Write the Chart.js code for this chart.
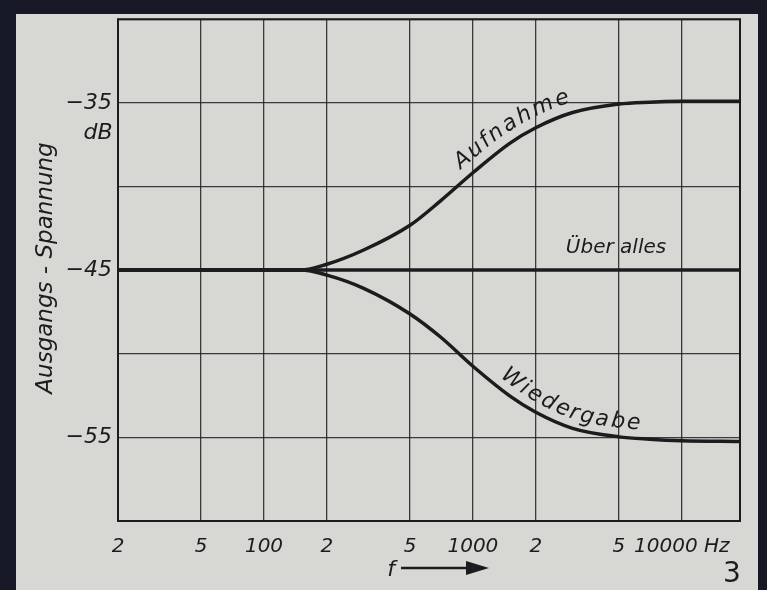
<!DOCTYPE html>
<html>
<head>
<meta charset="utf-8">
<script src="https://cdn.jsdelivr.net/npm/chart.js@4/dist/chart.umd.min.js"></script>
<style>
  html, body { margin: 0; padding: 0; background: #161925; }
  #wrap { width: 767px; height: 590px; }
</style>
</head>
<body>
<div id="wrap"><canvas id="chart" width="767" height="590"></canvas></div>
<script>
// ===== DATA =====
const freqs = [20, 100, 150, 200, 300, 500, 700, 1000, 1500, 2000, 3000, 5000, 7000, 10000, 19000];
const aufnahme = [-45, -45, -45, -44.65, -43.8, -42.32, -40.86, -39.18, -37.42, -36.49, -35.58, -35.07, -34.96, -34.91, -34.9];
const wiedergabe = [-45, -45, -45, -45.3, -46.09, -47.62, -49.0, -50.75, -52.52, -53.5, -54.46, -54.97, -55.11, -55.2, -55.25];
const ueberAlles = [-45, -45, -45, -45, -45, -45, -45, -45, -45, -45, -45, -45, -45, -45, -45];

const xTicks = [20, 50, 100, 200, 500, 1000, 2000, 5000, 10000];
const xTickLabels = ['2', '5', '100', '2', '5', '1000', '2', '5', '10000 Hz'];
const yLabelled = [-35, -45, -55];

const INK = '#1c1c1e';
const FONT = '"DejaVu Sans", sans-serif';

// sample the drawn curve of a dataset (bezier segments between its points)
function curvePath(chart, idx) {
  const pts = chart.getDatasetMeta(idx).data;
  const out = [];
  for (let i = 0; i < pts.length - 1; i++) {
    const a = pts[i], b = pts[i + 1];
    const p1x = a.cp2x ?? a.x, p1y = a.cp2y ?? a.y;
    const p2x = b.cp1x ?? b.x, p2y = b.cp1y ?? b.y;
    for (let s = 0; s < 12; s++) {
      const t = s / 12, u = 1 - t;
      out.push({
        x: u*u*u*a.x + 3*u*u*t*p1x + 3*u*t*t*p2x + t*t*t*b.x,
        y: u*u*u*a.y + 3*u*u*t*p1y + 3*u*t*t*p2y + t*t*t*b.y
      });
    }
  }
  const last = pts[pts.length - 1];
  out.push({ x: last.x, y: last.y });
  return out;
}

// write text along a sampled path, offset to the upper side
function textAlong(c, path, text, startX, offset, spacing) {
  const segs = [];
  let total = 0;
  for (let i = 0; i < path.length - 1; i++) {
    const dx = path[i + 1].x - path[i].x, dy = path[i + 1].y - path[i].y;
    const len = Math.hypot(dx, dy);
    if (len > 0) segs.push({ p: path[i], dx, dy, len, at: total });
    total += len;
  }
  const pointAt = d => {
    for (const s of segs) {
      if (d <= s.at + s.len || s === segs[segs.length - 1]) {
        const t = (d - s.at) / s.len;
        return { x: s.p.x + s.dx * t, y: s.p.y + s.dy * t, tx: s.dx / s.len, ty: s.dy / s.len };
      }
    }
  };
  let d = 0;
  for (const s of segs) { if (s.p.x >= startX) { d = s.at; break; } }
  for (const ch of text) {
    const w = c.measureText(ch).width;
    const q = pointAt(d + w / 2);
    c.save();
    c.translate(q.x + q.ty * offset, q.y - q.tx * offset);
    c.rotate(Math.atan2(q.ty, q.tx));
    c.fillText(ch, 0, 0);
    c.restore();
    d += w + spacing;
  }
}

// ===== PAPER + FRAME + ANNOTATIONS =====
const paperPlugin = {
  id: 'paper',
  beforeDraw(chart) {
    const c = chart.ctx;
    c.save();
    c.fillStyle = '#161925';
    c.fillRect(0, 0, chart.width, chart.height);
    c.fillStyle = '#d7d7d4';
    c.fillRect(16, 14, 742, 576);
    c.restore();
  },
  afterDraw(chart) {
    const c = chart.ctx;
    const a = chart.chartArea;
    c.save();
    // plot frame
    c.strokeStyle = INK;
    c.lineWidth = 2;
    c.strokeRect(a.left, a.top, a.right - a.left, a.bottom - a.top);

    c.fillStyle = INK;
    c.textAlign = 'center';
    c.textBaseline = 'middle';

    // unit under -35
    c.font = 'italic 22px ' + FONT;
    c.fillText('dB', 98, 133);

    // y title
    c.save();
    c.font = 'italic 23px ' + FONT;
    c.translate(46, 268);
    c.rotate(-Math.PI / 2);
    c.fillText('Ausgangs - Spannung', 0, 0);
    c.restore();

    // curve names
    c.font = 'italic 22px ' + FONT;
    textAlong(c, curvePath(chart, 0), 'Aufnahme', 466, 16, 1.8);
    textAlong(c, curvePath(chart, 2), 'Wiedergabe', 494, 15, 2.8);
    c.font = 'italic 20px ' + FONT;
    c.fillText('Über alles', 616, 248);

    // f --->
    c.font = 'italic 22px ' + FONT;
    c.fillText('f', 391, 570);
    c.lineWidth = 2.5;
    c.beginPath();
    c.moveTo(401, 568);
    c.lineTo(470, 568);
    c.stroke();
    c.beginPath();
    c.moveTo(489, 568);
    c.lineTo(466, 561);
    c.lineTo(466, 575);
    c.closePath();
    c.fill();

    // figure number
    c.font = '28px ' + FONT;
    c.fillText('3', 732, 575);
    c.restore();
  }
};

const ctx = document.getElementById('chart').getContext('2d');
new Chart(ctx, {
  type: 'line',
  data: {
    labels: freqs,
    datasets: [
      { label: 'Aufnahme', data: freqs.map((f, i) => ({ x: f, y: aufnahme[i] })) },
      { label: 'Über alles', data: freqs.map((f, i) => ({ x: f, y: ueberAlles[i] })) },
      { label: 'Wiedergabe', data: freqs.map((f, i) => ({ x: f, y: wiedergabe[i] })) }
    ].map(ds => Object.assign(ds, {
      borderColor: INK,
      borderWidth: 3.5,
      pointRadius: 0,
      fill: false,
      cubicInterpolationMode: 'monotone'
    }))
  },
  options: {
    responsive: false,
    animation: false,
    layout: { padding: { left: 0, top: 17, right: 27, bottom: 0 } },
    plugins: {
      legend: { display: false },
      tooltip: { enabled: false }
    },
    scales: {
      x: {
        type: 'logarithmic',
        min: 20,
        max: 19000,
        afterBuildTicks: s => { s.ticks = xTicks.map(v => ({ value: v })); },
        afterFit: s => { s.height = 69; },
        grid: { color: 'rgba(30,30,32,0.85)', lineWidth: 1.3, drawTicks: false },
        border: { display: false },
        ticks: {
          color: INK,
          padding: 14,
          maxRotation: 0,
          autoSkip: false,
          font: { family: FONT, size: 20, style: 'italic' },
          callback: (v, i) => xTickLabels[i]
        }
      },
      y: {
        min: -60,
        max: -30,
        afterFit: s => { s.width = 118; },
        grid: { color: 'rgba(30,30,32,0.85)', lineWidth: 1.3, drawTicks: false },
        border: { display: false },
        ticks: {
          stepSize: 5,
          color: INK,
          padding: 6,
          font: { family: FONT, size: 22, style: 'italic' },
          callback: v => yLabelled.includes(v) ? '\u2212' + Math.abs(v) : ''
        }
      }
    }
  },
  plugins: [paperPlugin]
});
</script>
</body>
</html>
